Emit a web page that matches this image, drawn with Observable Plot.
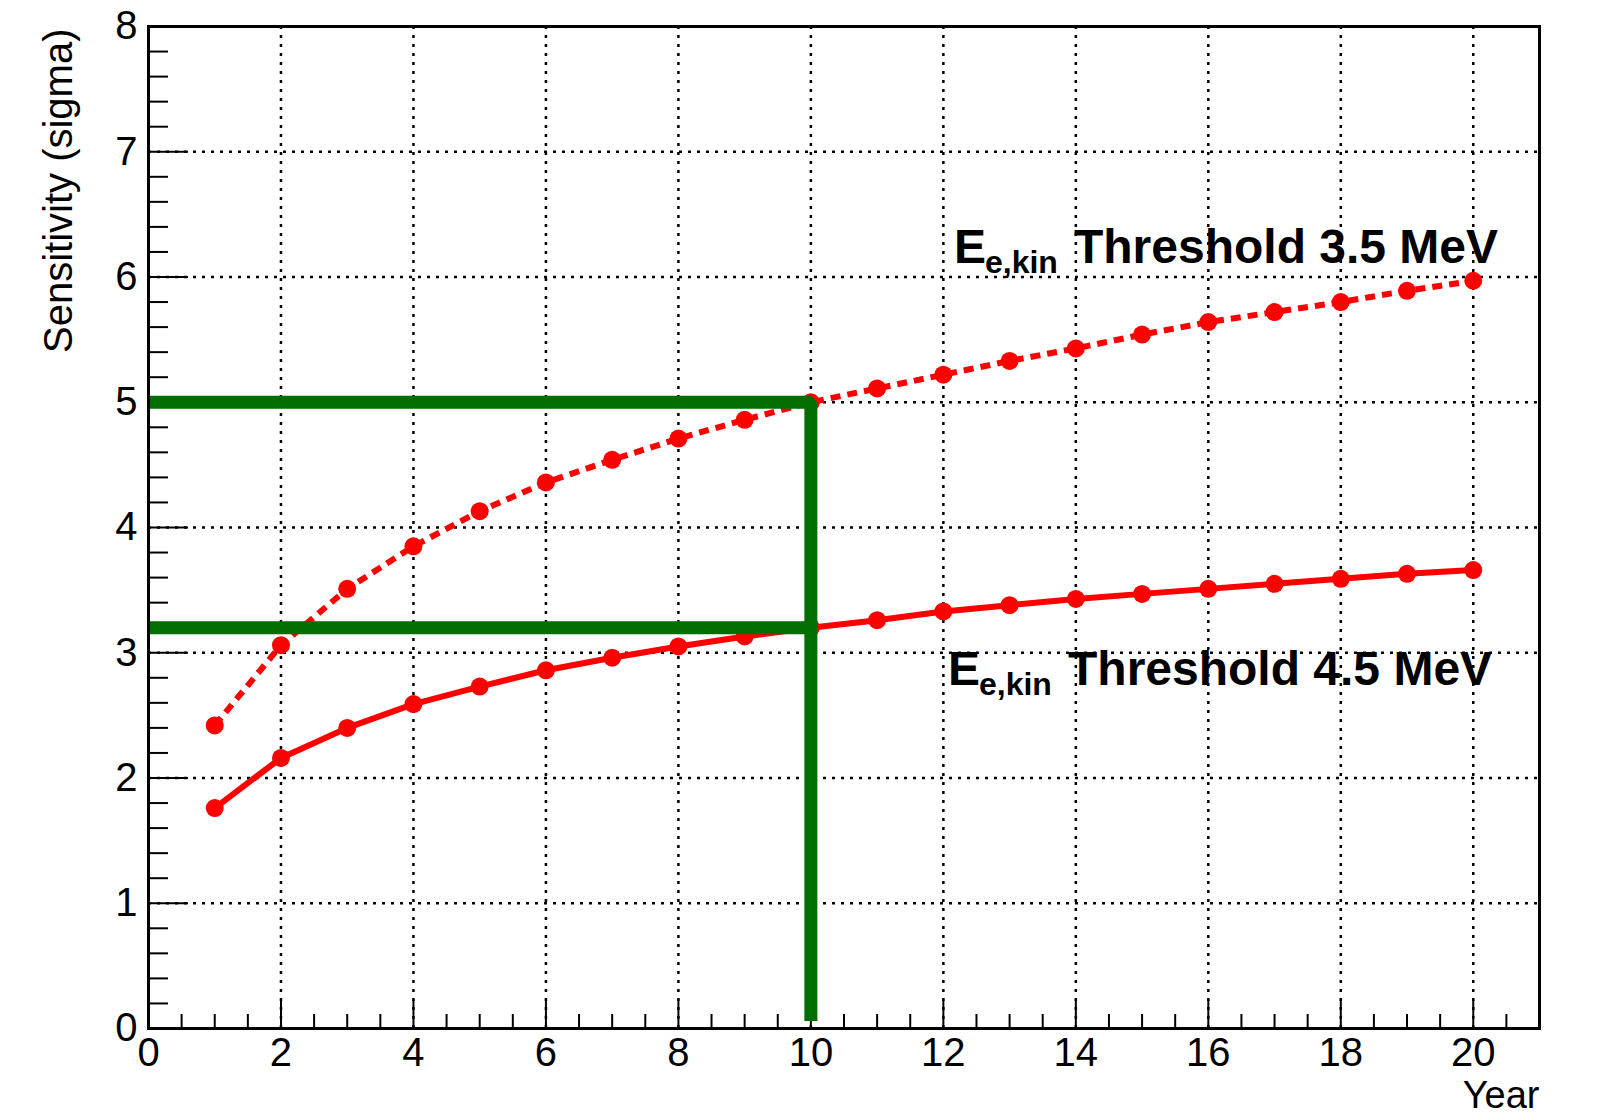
<!DOCTYPE html>
<html><head><meta charset="utf-8">
<script src="https://cdn.jsdelivr.net/npm/d3@7"></script>
<script src="https://cdn.jsdelivr.net/npm/@observablehq/plot@0.6"></script>
<style>body{margin:0;background:#fff} svg{display:block}</style>
</head><body><div id="chart"></div>
<script>
// ---- data ----
const years = [1,2,3,4,5,6,7,8,9,10,11,12,13,14,15,16,17,18,19,20];
const sens35 = [2.42,3.06,3.51,3.85,4.13,4.36,4.54,4.71,4.86,5.00,5.11,5.22,5.33,5.43,5.54,5.64,5.72,5.80,5.89,5.97];
const sens45 = [1.76,2.16,2.40,2.59,2.73,2.86,2.96,3.05,3.13,3.20,3.26,3.33,3.38,3.43,3.47,3.51,3.55,3.59,3.63,3.66];
const xTicks = [0,2,4,6,8,10,12,14,16,18,20];
const xMinorTicks = [0.5,1,1.5,2.5,3,3.5,4.5,5,5.5,6.5,7,7.5,8.5,9,9.5,10.5,11,11.5,12.5,13,13.5,14.5,15,15.5,16.5,17,17.5,18.5,19,19.5,20.5];
const yTicks = [0,1,2,3,4,5,6,7,8];
const yMinorTicks = [0.2,0.4,0.6,0.8,1.2,1.4,1.6,1.8,2.2,2.4,2.6,2.8,3.2,3.4,3.6,3.8,4.2,4.4,4.6,4.8,5.2,5.4,5.6,5.8,6.2,6.4,6.6,6.8,7.2,7.4,7.6,7.8];
const refLevels = [5, 3.2];      // sensitivity reference levels (green)
const refYear = 10;              // reference year (green vertical)
const refBottom = 0.06;          // lower end of the green vertical
const labelThresholds = ["Threshold 3.5 MeV", "Threshold 4.5 MeV"];
const labelX = [12.16, 12.07];
const labelY = [6.11, 2.74];
const xTitle = "Year";
const yTitle = "Sensitivity (sigma)";

// ---- derived tables ----
const t35 = years.map((x,i)=>({x, y: sens35[i]}));
const t45 = years.map((x,i)=>({x, y: sens45[i]}));
const green1 = [{x:0,y:refLevels[0]},{x:refYear,y:refLevels[0]},{x:refYear,y:refBottom}];
const green2 = [{x:0,y:refLevels[1]},{x:refYear,y:refLevels[1]}];
const labels = labelThresholds.map((t,i)=>({t, x: labelX[i], y: labelY[i]}));

// ---- layout ----
const W = 1603, H = 1116, mL = 148, mR = 64, mT = 26, mB = 88;
const plotW = W - mL - mR, plotH = H - mT - mB;
const font = "'Liberation Sans', Arial, Helvetica, sans-serif";
const red = "#ff0000", green = "#006e00";
const axisFont = 40;
const gridStyle = {stroke:"black", strokeOpacity:1, strokeWidth:2.5, strokeDasharray:"3,6"};

const chart = Plot.plot({
  width: W, height: H,
  marginLeft: mL, marginRight: mR, marginTop: mT, marginBottom: mB,
  style: {fontFamily: font, background: "white", color: "black"},
  x: {domain: [0, 21]},
  y: {domain: [0, 8]},
  marks: [
    Plot.gridX(xTicks.filter(d => d > 0), gridStyle),
    Plot.gridY(yTicks.filter(d => d > 0 && d < 8), gridStyle),
    Plot.ruleX(xMinorTicks, {x: d => d, stroke: "black", strokeWidth: 2, insetTop: plotH - 14}),
    Plot.ruleX(xTicks, {x: d => d, stroke: "black", strokeWidth: 2, insetTop: plotH - 29}),
    Plot.ruleY(yMinorTicks, {y: d => d, stroke: "black", strokeWidth: 2, insetRight: plotW - 20}),
    Plot.ruleY(yTicks, {y: d => d, stroke: "black", strokeWidth: 2, insetRight: plotW - 40}),
    Plot.axisX({ticks: xTicks, tickSize: 0, tickPadding: 9, fontSize: axisFont, label: null, tickFormat: d => String(d)}),
    Plot.axisY({ticks: yTicks, tickSize: 0, tickPadding: 11, fontSize: axisFont, label: null, tickFormat: d => String(d)}),
    Plot.line(t45, {x: "x", y: "y", stroke: red, strokeWidth: 6}),
    Plot.line(t35, {x: "x", y: "y", stroke: red, strokeWidth: 6, strokeDasharray: "10,7", strokeLinecap: "butt"}),
    Plot.dot(t35, {x: "x", y: "y", r: 9, fill: red}),
    Plot.dot(t45, {x: "x", y: "y", r: 9, fill: red}),
    Plot.line(green1, {x: "x", y: "y", stroke: green, strokeWidth: 13, strokeLinecap: "butt", strokeLinejoin: "miter"}),
    Plot.line(green2, {x: "x", y: "y", stroke: green, strokeWidth: 13, strokeLinecap: "butt"}),
    Plot.frame({stroke: "black", strokeWidth: 3}),
    Plot.text(labels, {x: "x", y: "y", text: () => "E", textAnchor: "start", lineAnchor: "bottom", fontSize: 48, fontWeight: "bold"}),
    Plot.text(labels, {x: "x", y: "y", text: () => "e,kin", textAnchor: "start", lineAnchor: "bottom", fontSize: 32, fontWeight: "bold", dx: 31, dy: 10}),
    Plot.text(labels, {x: "x", y: "y", text: "t", textAnchor: "start", lineAnchor: "bottom", fontSize: 48, fontWeight: "bold", dx: 120}),
    Plot.text([yTitle], {text: d => d, frameAnchor: "top-left", rotate: -90, textAnchor: "end", lineAnchor: "middle", dx: -89, dy: 2, fontSize: axisFont}),
    Plot.text([xTitle], {text: d => d, frameAnchor: "bottom-right", textAnchor: "end", lineAnchor: "bottom", dy: 79, fontSize: 38})
  ]
});
document.getElementById("chart").appendChild(chart);
</script>
</body></html>
